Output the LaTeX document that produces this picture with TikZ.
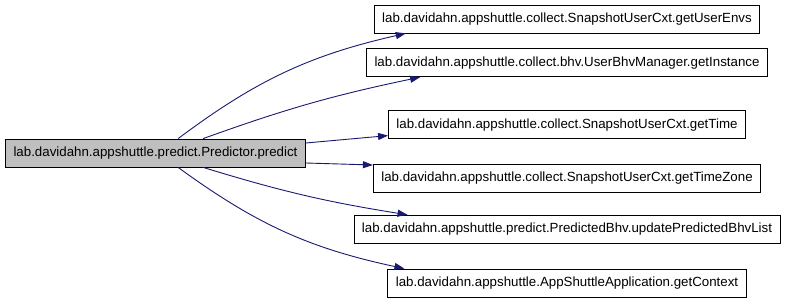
\documentclass[tikz,border=0pt]{standalone}
\usepackage{fontspec}
\setmainfont{Liberation Sans}
\usetikzlibrary{arrows.meta}
\usetikzlibrary{positioning}
\definecolor{edgeblue}{HTML}{191970}

\begin{document}
\begin{tikzpicture}[x=1pt, y=-1pt,
    every node/.style={draw, rectangle, line width=0.8pt, font=\fontsize{13.3}{15}\selectfont, minimum height=28pt, inner xsep=8pt, inner ysep=0pt},
    call/.style={draw=edgeblue, line width=0.9pt, -{Triangle[length=10pt, width=7pt]}}]
    \useasboundingbox (0,0) rectangle (787,307);

    \node (predict) [fill=gray!50] at (155.5,153) {lab.davidahn.appshuttle.predict.Predictor.predict};

    \node (envs) at (567,19) {lab.davidahn.appshuttle.collect.SnapshotUserCxt.getUserEnvs};
    \node (instance) [below=15pt of envs] {lab.davidahn.appshuttle.collect.bhv.UserBhvManager.getInstance};
    \node (time) [below=33pt of instance] {lab.davidahn.appshuttle.collect.SnapshotUserCxt.getTime};
    \node (zone) [below=25pt of time] {lab.davidahn.appshuttle.collect.SnapshotUserCxt.getTimeZone};
    \node (bhvlist) [below=22pt of zone] {lab.davidahn.appshuttle.predict.PredictedBhv.updatePredictedBhvList};
    \node (context) [below=25pt of bhvlist] {lab.davidahn.appshuttle.AppShuttleApplication.getContext};

    \draw[call] ([xshift=173pt]predict.north west) to[bend left=12] ([xshift=32pt]envs.south west);
    \draw[call] ([xshift=198pt]predict.north west) to[bend left=4] ([xshift=54pt]instance.south west);
    \draw[call] ([yshift=10pt]predict.east) -- ([yshift=-11pt]time.west);
    \draw[call] ([yshift=-10pt]predict.east) -- ([yshift=-1pt]zone.north west);
    \draw[call] ([xshift=198pt]predict.south west) to[bend right=4] ([xshift=54pt]bhvlist.north west);
    \draw[call] ([xshift=173pt]predict.south west) to[bend right=12] ([xshift=17pt]context.north west);
\end{tikzpicture}
\end{document}
